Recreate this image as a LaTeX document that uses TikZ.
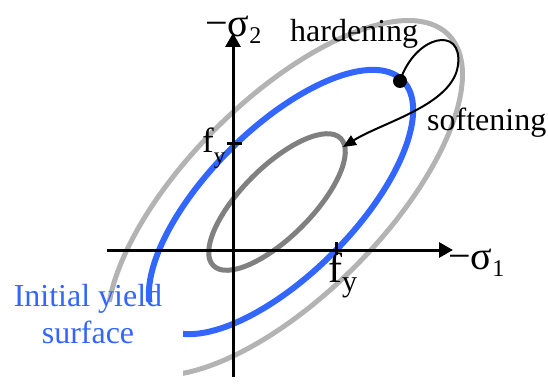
\documentclass[tikz,border=0pt]{standalone}
\usepackage{fontspec}
\setmainfont{Liberation Serif}
\usetikzlibrary{arrows.meta}

\definecolor{yieldblue}{RGB}{51,102,255}
\definecolor{hardgray}{RGB}{179,179,179}
\definecolor{softgray}{RGB}{128,128,128}

\newcommand{\negsig}[1]{{\fontsize{40}{40}\selectfont −σ}\raisebox{-7pt}{\fontsize{24}{24}\selectfont #1}}
\newcommand{\yieldlbl}[3]{{\fontsize{#1}{#1}\selectfont f}\raisebox{-#3}{\fontsize{#2}{#2}\selectfont y}}

\begin{document}
\begin{tikzpicture}[x=1pt, y=1pt,
        axis/.style={line width=3pt, -{Triangle[length=14pt, width=15pt]}},
        surf/.style={line width=5pt},
        lbl/.style={inner sep=0pt, anchor=base west, font=\fontsize{32}{37}\selectfont}]
    \useasboundingbox (-233,-133) rectangle (315,250);
    % yield surfaces (cut open where the label sits)
    \begin{scope}
        \clip (-233,-52) -- (-50,-52) -- (-50,-133) -- (315,-133) -- (315,250) -- (-233,250) -- cycle;
        \draw[surf, hardgray, rotate around={45:(52,52)}] (52,52) ellipse [x radius=231, y radius=98];
        \draw[surf, line width=6pt, yieldblue, rotate around={45:(48,48)}] (48,48) ellipse [x radius=172, y radius=73];
    \end{scope}
    \draw[surf, softgray, rotate around={45:(44,48)}] (44,48) ellipse [x radius=90, y radius=35];
    % axes
    \coordinate (xs) at (-126,0);
    \coordinate (xe) at (220,0);
    \coordinate (ys) at (0,-127);
    \coordinate (ye) at (0,217);
    \draw[axis] (xs) -- (xe);
    \draw[axis] (ys) -- (ye);
    \draw[line width=3pt] (-6,107) -- (9,107);
    \draw[line width=3pt] (103,8) -- (103,-5);
    % load path
    \node[circle, fill=black, inner sep=0pt, minimum size=14pt] (yp) at (167,169) {};
    \coordinate (tip) at (110,103);
    \draw[line width=2pt, -{Triangle[length=13pt, width=11pt]}] (yp.center)
        .. controls (182,215) and (230,225) .. (225,185)
        .. controls (220,145) and (150,128) .. (tip);
    % labels
    \node[lbl] (hard) at (57,208) {hardening};
    \node[lbl] (soft) at (194,120) {softening};
    \node[lbl, anchor=base, align=center, text=yieldblue] (init) at (-145,-93) {Initial yield\\surface};
    \node[lbl] (s2) at (-28,213) {\negsig{2}};
    \node[lbl] (s1) at (215,-19) {\negsig{1}};
    \node[lbl] (fyv) at (-31,98) {\yieldlbl{35}{23}{11pt}};
    \node[lbl] (fyh) at (95,-32) {\yieldlbl{42}{30}{9pt}};
\end{tikzpicture}
\end{document}
